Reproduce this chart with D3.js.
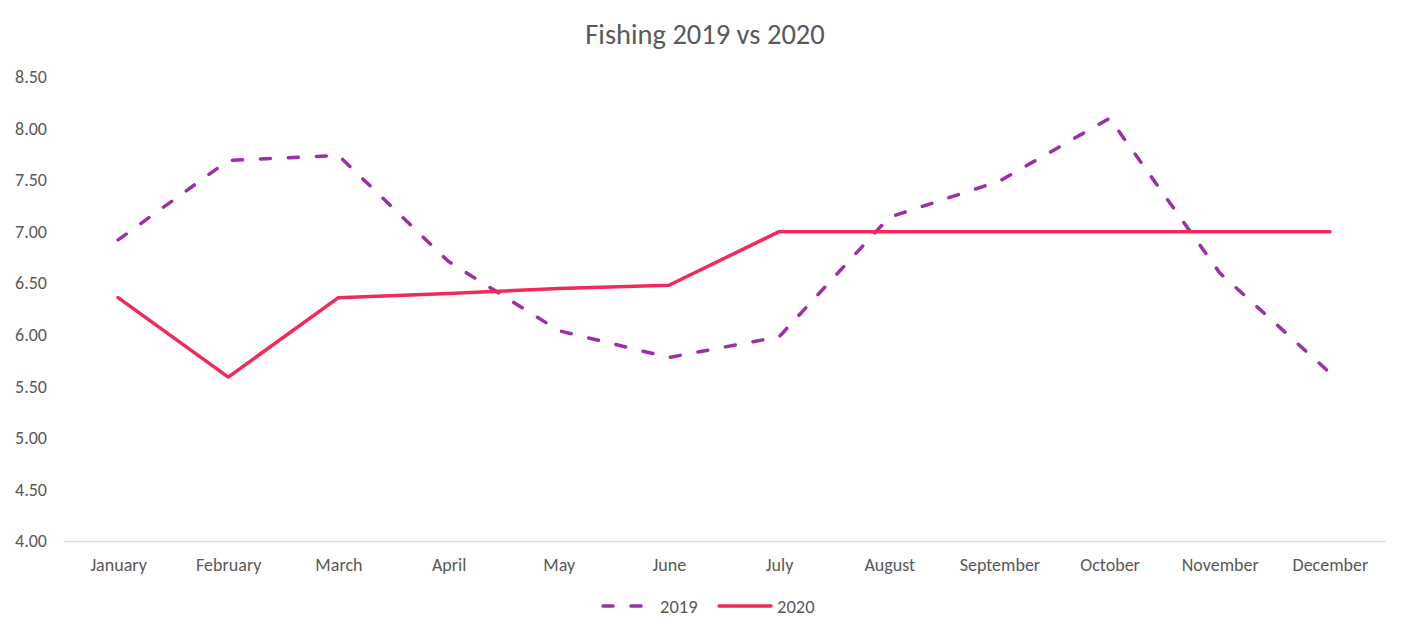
<!DOCTYPE html>
<meta charset="utf-8">
<script src="https://d3js.org/d3.v7.min.js"></script>
<style>
body { margin: 0; background: #fff; }
text { font-family: Carlito, Lato, "Liberation Sans", sans-serif; fill: #595959; }
.axis path, .axis line { stroke: none; }
.axis text { font-size: 18px; }
.x.axis path.domain { stroke: #d9d9d9; stroke-width: 1.3; }
.line { fill: none; stroke-width: 3.5; stroke-linejoin: round; }
.line.y2019 { stroke: #9c2fa9; stroke-dasharray: 10,18; stroke-linecap: round; }
.line.y2020 { stroke: #f2295b; stroke-linecap: round; }
</style>
<body></body>
<script>

var months = ["January","February","March","April","May","June","July",
  "August","September","October","November","December"];
var values2019 = [6.92, 7.69, 7.74, 6.71, 6.04, 5.78, 5.98, 7.14, 7.49, 8.10, 6.60, 5.63];
var values2020 = [6.36, 5.59, 6.36, 6.40, 6.45, 6.48, 7.00, 7.00, 7.00, 7.00, 7.00, 7.00];
var yTicks = [4, 4.5, 5, 5.5, 6, 6.5, 7, 7.5, 8, 8.5];

var W = 1408, H = 637;
var margin = {top: 77, right: 23, bottom: 96, left: 63};
var width = W - margin.left - margin.right,
    height = H - margin.top - margin.bottom;

var svg = d3.select("body").append("svg")
  .attr("width", W)
  .attr("height", H);

svg.append("text")
  .attr("x", 705)
  .attr("y", 44)
  .attr("text-anchor", "middle")
  .style("font-size", "28.5px")
  .text("Fishing 2019 vs 2020");

var g = svg.append("g")
  .attr("transform", "translate(" + margin.left + "," + margin.top + ")");

var xScale = d3.scalePoint()
  .domain(months)
  .range([0, width])
  .padding(0.5);

var yScale = d3.scaleLinear()
  .domain([4, 8.5])
  .range([height, 0]);

g.append("g")
  .attr("class", "x axis")
  .attr("transform", "translate(0," + height + ")")
  .call(d3.axisBottom(xScale).tickSize(0).tickSizeOuter(0).tickPadding(17));

g.append("g")
  .attr("class", "y axis")
  .call(d3.axisLeft(yScale).tickValues(yTicks).tickFormat(d3.format(".2f")).tickSize(0).tickPadding(16));

var seriesLine = d3.line()
  .x(function(d, i) { return xScale(months[i]); })
  .y(function(d) { return yScale(d); });

g.append("path")
  .attr("class", "line y2019")
  .attr("d", seriesLine(values2019));

g.append("path")
  .attr("class", "line y2020")
  .attr("d", seriesLine(values2020));

// legend
var legend = svg.append("g").attr("transform", "translate(0,606)");
legend.append("line")
  .attr("class", "line y2019")
  .attr("x1", 603).attr("x2", 643).attr("y1", 0).attr("y2", 0)
  .style("stroke-dasharray", "10,18");
legend.append("text").attr("x", 660).attr("y", 6.5).style("font-size", "18.5px").text("2019");
legend.append("line")
  .attr("class", "line y2020")
  .attr("x1", 719).attr("x2", 771).attr("y1", 0).attr("y2", 0);
legend.append("text").attr("x", 777).attr("y", 6.5).style("font-size", "18.5px").text("2020");

</script>
